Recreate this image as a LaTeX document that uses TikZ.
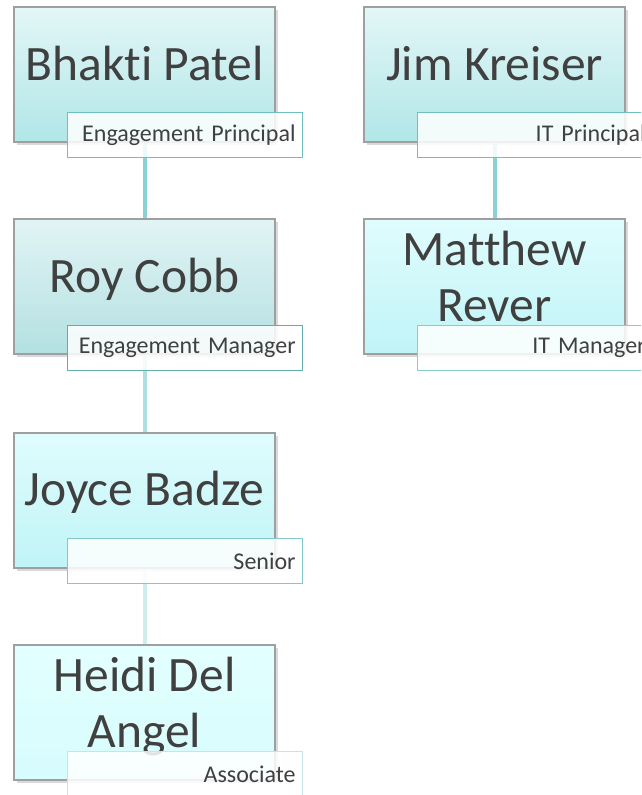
\documentclass[tikz,border=0pt]{standalone}
\usepackage{fontspec}
\setmainfont{Carlito}[Ligatures={NoCommon}]
\newfontfamily\rolefont{Carlito}[Ligatures={NoCommon}]
\newcommand\rolestyle{\rolefont\fontsize{24}{28}\selectfont\spaceskip=2.5pt plus 1pt\relax}
\usepackage{tikz}
\usetikzlibrary{shadows}
\definecolor{inktext}{HTML}{404040}
\definecolor{linkteal}{HTML}{8AD3D4}
\definecolor{roleedge}{HTML}{6EBFC0}
\definecolor{boxtopA}{HTML}{E3F6F7}
\definecolor{boxbotA}{HTML}{B1E6E7}
\definecolor{boxtopB}{HTML}{E2F4F5}
\definecolor{boxbotB}{HTML}{B3E0E1}
\definecolor{boxtopC}{HTML}{E0FCFD}
\definecolor{boxbotC}{HTML}{C0F4F7}
\definecolor{boxtopD}{HTML}{E4FFFF}
\definecolor{boxbotD}{HTML}{D6FCFD}

\begin{document}
\begin{tikzpicture}[x=1pt,y=-1pt,
  namebox/.style={draw=gray!75,line width=1.2pt,minimum width=261pt,minimum height=135pt,
    drop shadow={shadow xshift=3pt,shadow yshift=-3pt,opacity=.3,fill=gray}},
  nametext/.style={text=inktext,font=\fontsize{49.5}{56}\selectfont,align=center,anchor=base},
  rolebox/.style={draw=roleedge,line width=1.2pt,fill=white,fill opacity=.85,text opacity=1,
    text=inktext,font=\rolestyle,
    text width=221pt,align=right,inner xsep=7pt,minimum height=45pt,anchor=north west},
  link/.style={line width=4pt,linkteal}]
  \useasboundingbox (0,0) rectangle (641,795);
  \clip (0,0) rectangle (641,795);
  % boxes
  \node[namebox,top color=boxtopA,bottom color=boxbotA] (bhakti) at (144.5,74.5) {};
  \node[namebox,top color=boxtopB,bottom color=boxbotB] (roy) at (144.5,286.5) {};
  \node[namebox,top color=boxtopC,bottom color=boxbotC] (joyce) at (144.5,500.5) {};
  \node[namebox,top color=boxtopD,bottom color=boxbotD] (heidi) at (144.5,712.5) {};
  \node[namebox,top color=boxtopA,bottom color=boxbotA] (jim) at (494.5,74.5) {};
  \node[namebox,top color=boxtopC,bottom color=boxbotC] (matthew) at (494.5,286.5) {};
  % connectors
  \draw[link] (bhakti.south) -- (roy.north);
  \draw[link,linkteal!70] (roy.south) -- (joyce.north);
  \draw[link,linkteal!40] (joyce.south) -- (heidi.north);
  \draw[link] (jim.south) -- (matthew.north);
  % names
  \node[nametext] (bhaktiname) at (144.5,80) {Bhakti Patel};
  \node[nametext] (royname) at (144.5,292) {Roy Cobb};
  \node[nametext] (joycename) at (144.5,505) {Joyce Badze};
  \node[nametext] (heidiname) at (144.5,747) {Heidi Del\\Angel};
  \node[nametext] (jimname) at (494.5,80) {Jim Kreiser};
  \node[nametext] (matthewname) at (494.5,321) {Matthew\\Rever};
  % roles
  \node[rolebox] (bhaktirole) at (67,112) {Engagement Principal};
  \node[rolebox,draw=roleedge!90!black] (royrole) at (67,325) {Engagement Manager};
  \node[rolebox,draw=roleedge!85] (joycerole) at (67,538) {Senior};
  \node[rolebox,draw=roleedge!40] (heidirole) at (67,751) {Associate};
  \node[rolebox] (jimrole) at (417,112) {IT Principal};
  \node[rolebox,draw=roleedge!80] (matthewrole) at (417,325) {IT Manager};
\end{tikzpicture}
\end{document}
